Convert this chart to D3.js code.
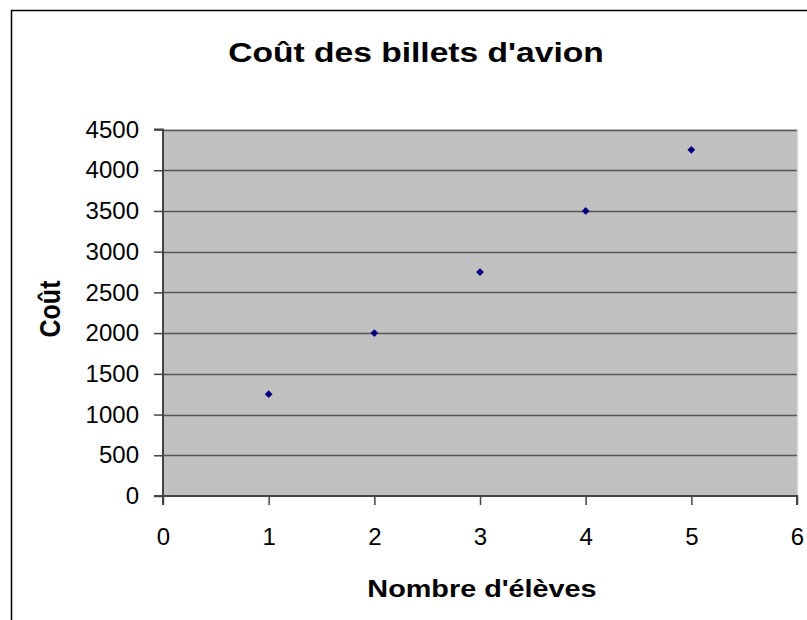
<!DOCTYPE html>
<html><head><meta charset="utf-8">
<script src="https://cdn.jsdelivr.net/npm/d3@7"></script>
<style>body{margin:0;background:#fff}svg{display:block}</style>
</head><body>
<svg id="c" width="807" height="620"></svg>
<script>
const titleText = "Coût des billets d'avion";
const xLabel = "Nombre d'élèves";
const yLabel = "Coût";
const xValues = [1, 2, 3, 4, 5];
const yValues = [1250, 2000, 2750, 3500, 4250];
const xTicks = [0, 1, 2, 3, 4, 5, 6];
const yTicks = [0, 500, 1000, 1500, 2000, 2500, 3000, 3500, 4000, 4500];

const svg = d3.select("#c");
const L = 163, R = 797, T = 129.5, B = 496;
const x = d3.scaleLinear().domain([0, 6]).range([L, R]);
const y = d3.scaleLinear().domain([0, 4500]).range([B, T]);

svg.append("rect").attr("x", 11.5).attr("y", 10.5).attr("width", 830).attr("height", 640)
  .attr("fill", "#fff").attr("stroke", "#000").attr("stroke-width", 1.5);

svg.append("rect").attr("x", L).attr("y", T).attr("width", R - L).attr("height", B - T)
  .attr("fill", "#c0c0c0");

// gridlines
svg.append("g").selectAll("line").data(yTicks.filter(d => d > 0)).join("line")
  .attr("x1", L).attr("x2", R).attr("y1", d => Math.round(y(d)) + 0.5).attr("y2", d => Math.round(y(d)) + 0.5)
  .attr("stroke", "#555").attr("stroke-width", 1.5);

// right border
svg.append("line").attr("x1", R + 0.5).attr("x2", R + 0.5).attr("y1", T).attr("y2", B)
  .attr("stroke", "#d8d8d8").attr("stroke-width", 1.5);

const font = "Liberation Sans, Arial, sans-serif";

const yAxis = svg.append("g").attr("transform", `translate(${L},0)`)
  .call(d3.axisLeft(y).tickValues(yTicks).tickSize(9).tickPadding(15).tickFormat(d3.format("d")));
const xAxis = svg.append("g").attr("transform", `translate(0,${B})`)
  .call(d3.axisBottom(x).tickValues(xTicks).tickSize(9).tickPadding(23).tickFormat(d3.format("d")));
[xAxis, yAxis].forEach(a => {
  a.select(".domain").attr("stroke", "#444").attr("stroke-width", 2);
  a.selectAll(".tick line").attr("stroke", "#444").attr("stroke-width", 1.5);
  a.selectAll("text").attr("font-family", font).attr("font-size", 24).attr("fill", "#000");
});
xAxis.select(".domain").attr("d", `M${L},9V0H${R}V9`);
yAxis.select(".domain").attr("d", `M-9,${T}H0V${B}H-9`);

svg.append("g").selectAll("path").data(xValues.map((v, i) => [v, yValues[i]])).join("path")
  .attr("d", d3.symbol().type(d3.symbolSquare).size(30))
  .attr("transform", d => `translate(${x(d[0])},${y(d[1])}) rotate(45)`)
  .attr("fill", "#000080");

svg.append("text").attr("transform", "translate(416,62) scale(1.2,1)").attr("text-anchor", "middle")
  .attr("font-family", font).attr("font-weight", "bold").attr("font-size", 28).text(titleText);
svg.append("text").attr("transform", "translate(482,597) scale(1.2,1)").attr("text-anchor", "middle")
  .attr("font-family", font).attr("font-weight", "bold").attr("font-size", 24).text(xLabel);
svg.append("text").attr("transform", "translate(60,309) scale(1.2,1) rotate(-90)").attr("text-anchor", "middle")
  .attr("font-family", font).attr("font-weight", "bold").attr("font-size", 25).text(yLabel);
</script>
</body></html>
